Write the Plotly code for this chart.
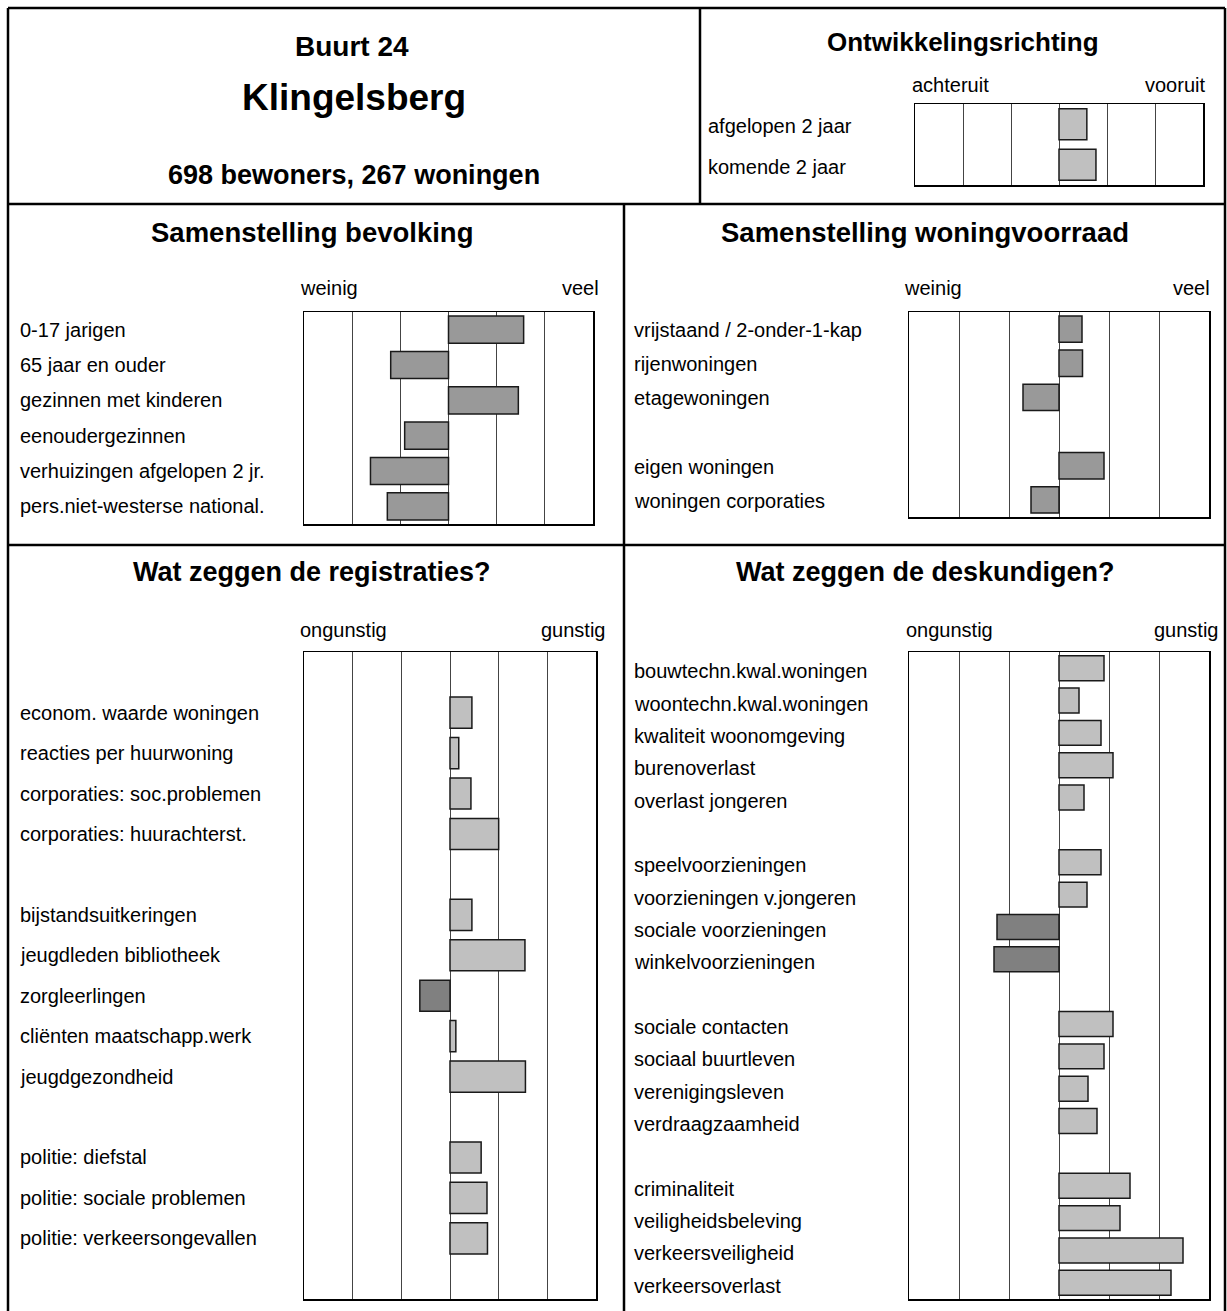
import plotly.graph_objects as go

W, H = 1227, 1311

# ---------------- data ----------------
ontw_labels = ["afgelopen 2 jaar", "komende 2 jaar"]
ontw_values = [0.58, 0.77]

bev_labels = ["0-17 jarigen", "65 jaar en ouder", "gezinnen met kinderen",
              "eenoudergezinnen", "verhuizingen afgelopen 2 jr.",
              "pers.niet-westerse national."]
bev_values = [1.56, -1.20, 1.45, -0.91, -1.62, -1.27]

won_groups = [["vrijstaand / 2-onder-1-kap", "rijenwoningen", "etagewoningen"],
              ["eigen woningen", "woningen corporaties"]]
won_values = [0.46, 0.47, -0.72, 0.90, -0.56]

reg_groups = [["econom. waarde woningen", "reacties per huurwoning",
               "corporaties: soc.problemen", "corporaties: huurachterst."],
              ["bijstandsuitkeringen", "jeugdleden bibliotheek", "zorgleerlingen",
               "cliënten maatschapp.werk", "jeugdgezondheid"],
              ["politie: diefstal", "politie: sociale problemen",
               "politie: verkeersongevallen"]]
reg_values = [0.45, 0.18, 0.43, 1.00,
              0.45, 1.54, -0.62, 0.12, 1.55,
              0.64, 0.76, 0.77]

desk_groups = [["bouwtechn.kwal.woningen", "woontechn.kwal.woningen",
                "kwaliteit woonomgeving", "burenoverlast", "overlast jongeren"],
               ["speelvoorzieningen", "voorzieningen v.jongeren",
                "sociale voorzieningen", "winkelvoorzieningen"],
               ["sociale contacten", "sociaal buurtleven", "verenigingsleven",
                "verdraagzaamheid"],
               ["criminaliteit", "veiligheidsbeleving", "verkeersveiligheid",
                "verkeersoverlast"]]
desk_values = [0.90, 0.40, 0.84, 1.08, 0.50,
               0.84, 0.56, -1.24, -1.30,
               1.08, 0.90, 0.58, 0.76,
               1.42, 1.22, 2.48, 2.24]


def layout_rows(groups, lead=0, trail=0):
    labels, rows = [], []
    r = lead
    for gi, g in enumerate(groups):
        if gi > 0:
            r += 1
        for lab in g:
            labels.append(lab)
            rows.append(r)
            r += 1
    return labels, rows, r + trail


FONT = "Liberation Sans, Arial, sans-serif"
LIGHT, MID, DARK = "#c0c0c0", "#999999", "#808080"
LBL = 20


def px(x):
    return x / W


def py(y):
    return 1 - y / H


# panel: (labels, rows, nrows, values, colors, box px (x0,x1,y0,y1), label x, label yshift)
panels = []
panels.append((ontw_labels, [0, 1], 2, ontw_values, [LIGHT] * 2, (915, 1203, 104, 185), 706, -2))
panels.append((bev_labels, list(range(6)), 6, bev_values, [MID] * 6, (304, 593, 312, 524), 18, 0))
l, r, n = layout_rows(won_groups)
panels.append((l, r, n, won_values, [MID] * len(won_values), (909, 1209, 312, 517), 632, -1))
l, r, n = layout_rows(reg_groups, lead=1, trail=1)
panels.append((l, r, n, reg_values, [LIGHT if v >= 0 else DARK for v in reg_values],
               (304, 596, 652, 1299), 18, 0))
l, r, n = layout_rows(desk_groups)
panels.append((l, r, n, desk_values, [LIGHT if v >= 0 else DARK for v in desk_values],
               (909, 1209, 652, 1299), 632, -3))

fig = go.Figure()
annotations = []
layout_axes = {}

for i, (labels, rows, nrows, values, colors, box, lx, ys) in enumerate(panels, start=1):
    xa = "x" if i == 1 else f"x{i}"
    ya = "y" if i == 1 else f"y{i}"
    fig.add_trace(go.Bar(
        x=values, y=rows, orientation="h", width=0.77,
        marker=dict(color=colors, line=dict(color="#1a1a1a", width=1.5)),
        xaxis=xa, yaxis=ya, showlegend=False, hoverinfo="skip"))
    x0, x1, y0, y1 = box
    xk = "xaxis" if i == 1 else f"xaxis{i}"
    yk = "yaxis" if i == 1 else f"yaxis{i}"
    layout_axes[xk] = dict(domain=[px(x0), px(x1)], range=[-3, 3], anchor=ya,
                           tickvals=[-2, -1, 0, 1, 2], showticklabels=False, ticks="",
                           showgrid=True, gridcolor="#444444", gridwidth=1,
                           zeroline=False, showline=True, mirror=True,
                           linecolor="black", linewidth=1.5, fixedrange=True)
    layout_axes[yk] = dict(domain=[py(y1), py(y0)], range=[nrows - 0.5, -0.5], anchor=xa,
                           showticklabels=False, ticks="", showgrid=False, zeroline=False,
                           showline=True, mirror=True, linecolor="black", linewidth=1.5,
                           fixedrange=True)
    for lab, rr in zip(labels, rows):
        annotations.append(dict(text=lab, x=px(lx), xref="paper", y=rr, yref=ya,
                                xanchor="left", yanchor="middle", showarrow=False,
                                yshift=ys,
                                font=dict(family=FONT, size=LBL, color="black")))


def txt(t, x, y, size, bold=False, anchor="center"):
    annotations.append(dict(text=f"<b>{t}</b>" if bold else t, x=px(x), y=py(y),
                            xref="paper", yref="paper", xanchor=anchor, yanchor="middle",
                            showarrow=False,
                            font=dict(family=FONT, size=size, color="black")))


txt("Buurt 24", 352, 47, 28, True)
txt("Klingelsberg", 354, 98, 37, True)
txt("698 bewoners, 267 woningen", 354, 175, 27, True)
txt("Ontwikkelingsrichting", 963, 42, 26, True)
txt("achteruit", 910, 85, LBL, anchor="left")
txt("vooruit", 1207, 85, LBL, anchor="right")

txt("Samenstelling bevolking", 312, 233, 27.5, True)
txt("weinig", 298, 288, LBL, anchor="left")
txt("veel", 601, 288, LBL, anchor="right")
txt("Samenstelling woningvoorraad", 925, 233, 27.5, True)
txt("weinig", 902, 288, LBL, anchor="left")
txt("veel", 1212, 288, LBL, anchor="right")

txt("Wat zeggen de registraties?", 312, 572, 27, True)
txt("ongunstig", 298, 630, LBL, anchor="left")
txt("gunstig", 608, 630, LBL, anchor="right")
txt("Wat zeggen de deskundigen?", 925, 572, 27, True)
txt("ongunstig", 904, 630, LBL, anchor="left")
txt("gunstig", 1221, 630, LBL, anchor="right")

# frame lines
LW = 2.5
frame = [
    (8, 8, 8, 1311), (1225, 8, 1225, 1311), (8, 8, 1225, 8),
    (8, 204, 1225, 204), (700, 8, 700, 204),
    (8, 545, 1225, 545), (624, 204, 624, 1311),
]
shapes = [dict(type="line", xref="paper", yref="paper", x0=px(a), y0=py(b),
               x1=px(c), y1=py(d), line=dict(color="black", width=LW))
          for a, b, c, d in frame]

fig.update_layout(width=W, height=H, margin=dict(l=0, r=0, t=0, b=0),
                  paper_bgcolor="white", plot_bgcolor="white",
                  annotations=annotations, shapes=shapes, bargap=0, **layout_axes)

fig.write_html("out.html", config={"displayModeBar": False, "staticPlot": True},
               post_script="document.body.style.margin='0';document.body.style.overflow='hidden';")
